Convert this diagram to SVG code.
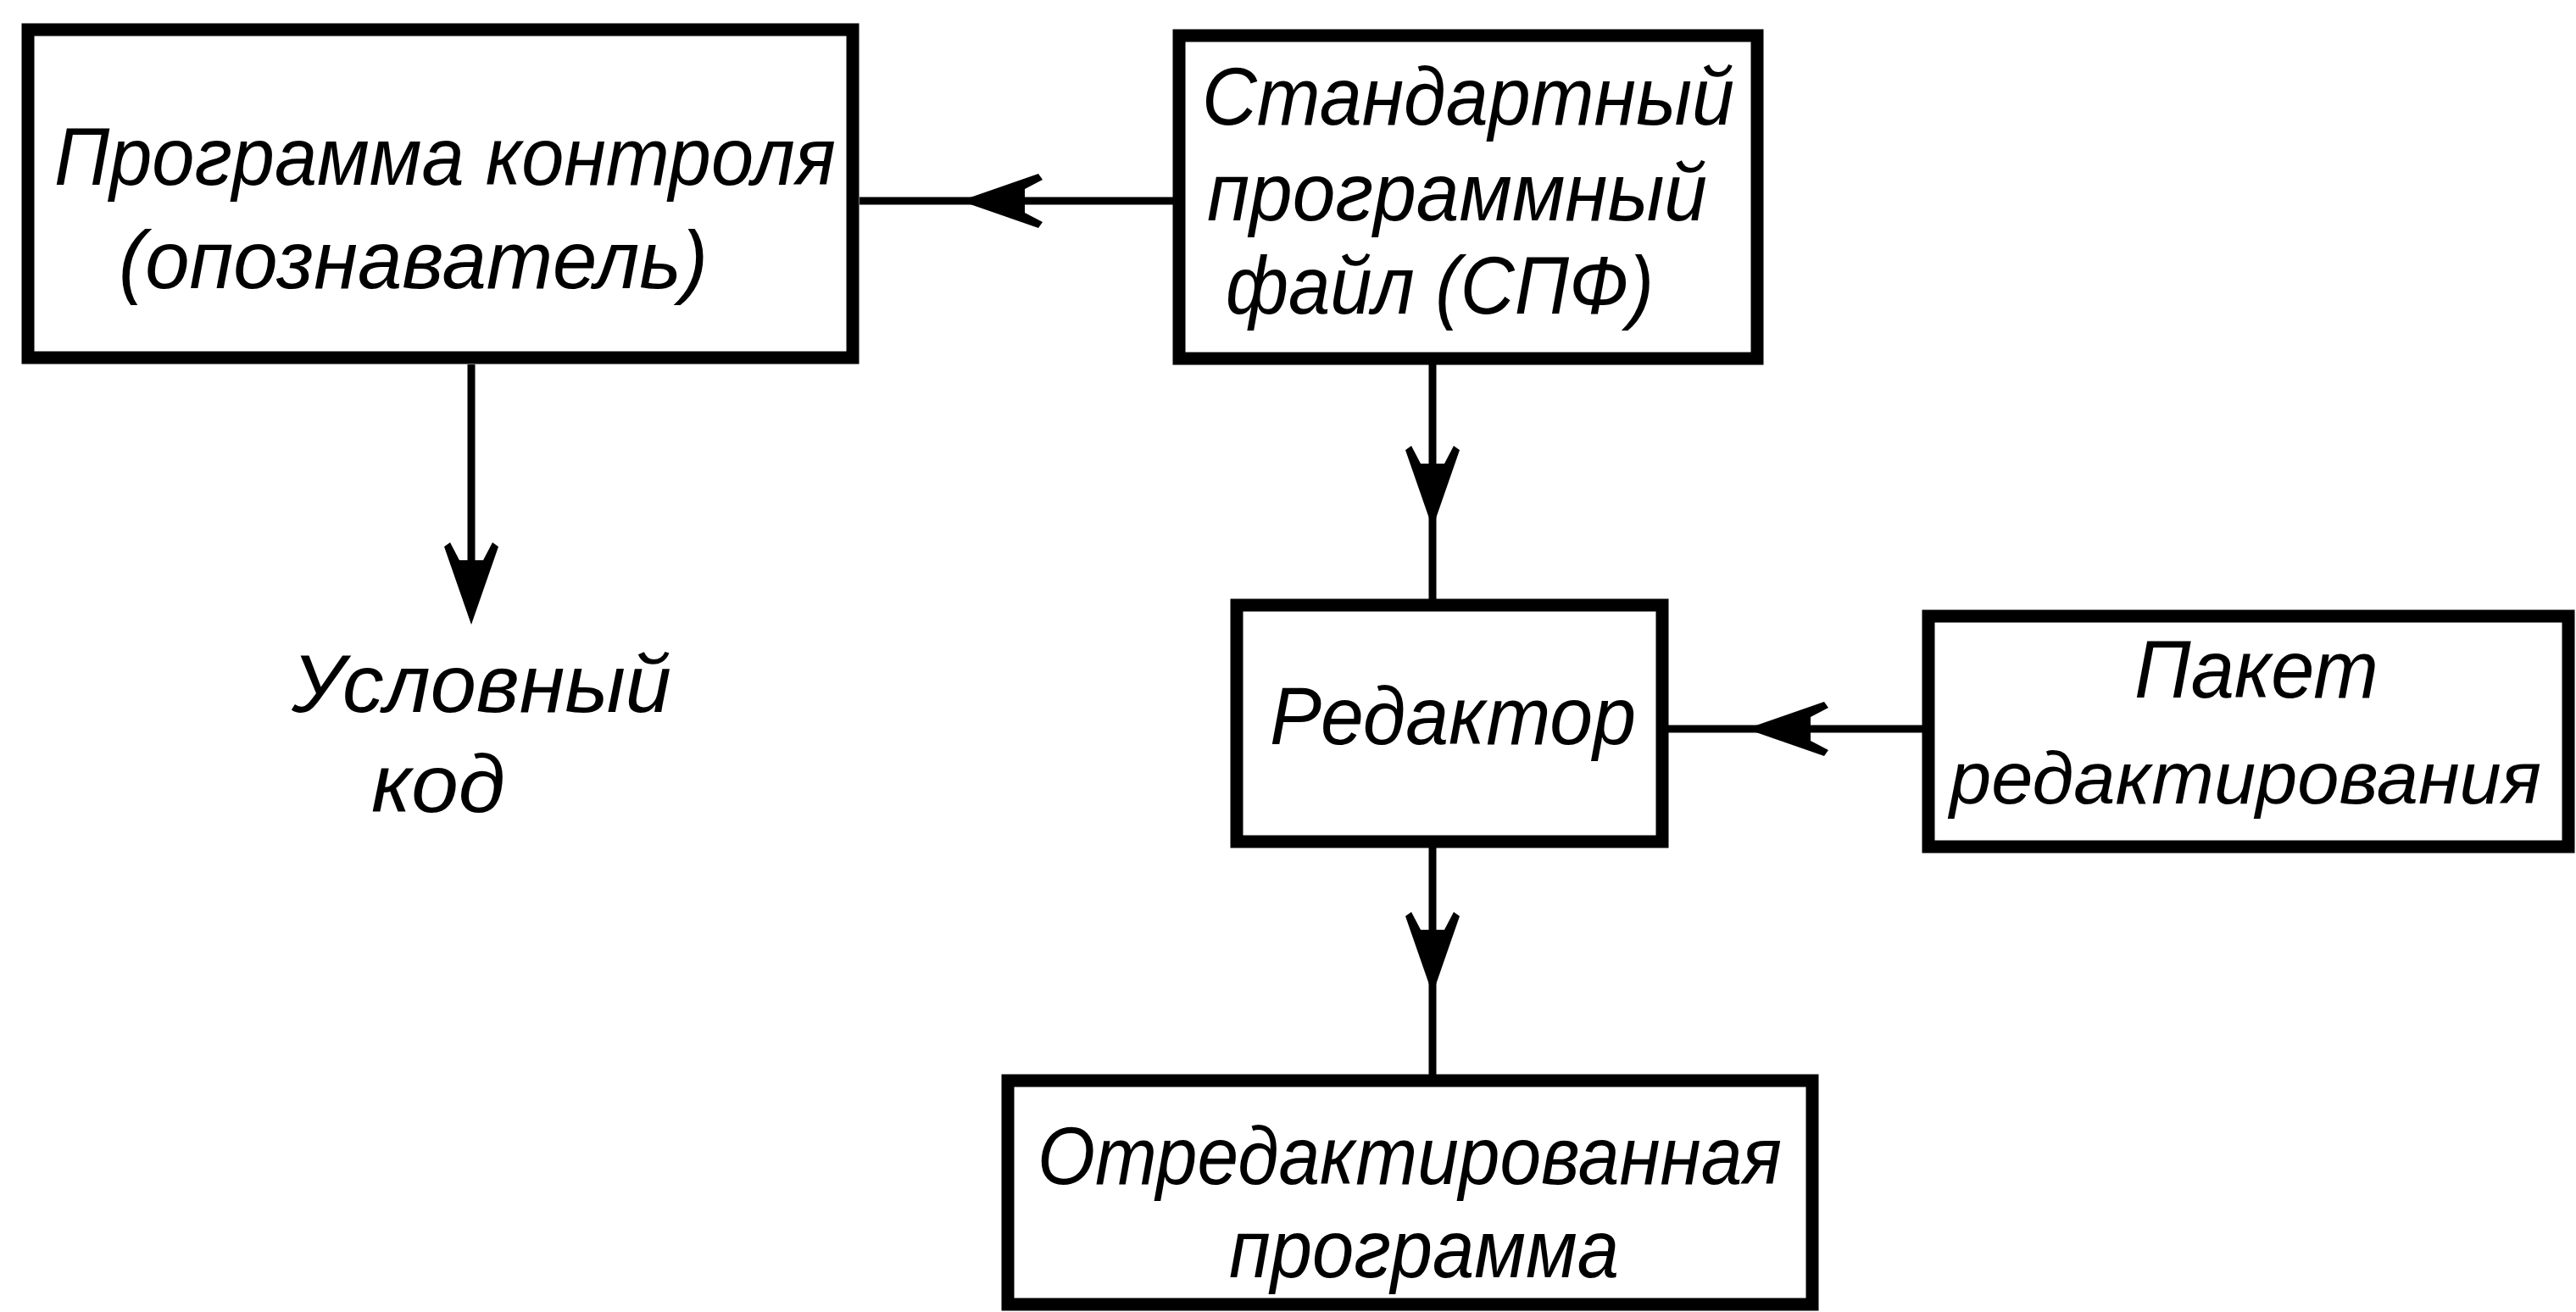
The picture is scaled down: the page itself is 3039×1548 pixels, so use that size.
<svg xmlns="http://www.w3.org/2000/svg" width="3039" height="1548" viewBox="0 0 3039 1548">
<style>
.box{fill:#fff;stroke:#000;stroke-width:15}
.ln{stroke:#000;stroke-width:9;fill:none}
.t{font-family:"Liberation Sans","DejaVu Sans",sans-serif;font-style:italic;font-size:97px;fill:#000}
</style>
<defs>
<path id="ah" d="M0,0 L-92,-32 L-97,-25 L-76,-14 L-76,14 L-97,25 L-92,32 Z" fill="#000"/>
</defs>
<rect width="3039" height="1548" fill="#fff"/>
<g id="connectors">
<line class="ln" x1="1386" y1="237" x2="1014" y2="237"/>
<use href="#ah" transform="translate(1133,237) rotate(180)"/>
<line class="ln" x1="1690" y1="430" x2="1690" y2="707"/>
<use href="#ah" transform="translate(1690,623) rotate(90)"/>
<line class="ln" x1="1690" y1="1000" x2="1690" y2="1268"/>
<use href="#ah" transform="translate(1690,1173) rotate(90)"/>
<line class="ln" x1="2268" y1="860" x2="1966" y2="860"/>
<use href="#ah" transform="translate(2060,860) rotate(180)"/>
<line class="ln" x1="556" y1="430" x2="556" y2="700"/>
<use href="#ah" transform="translate(556,737) rotate(90)"/>
</g>
<g id="node-control">
<rect class="box" x="33" y="35" width="973" height="387"/>
<text class="t" x="64" y="218" textLength="922" lengthAdjust="spacingAndGlyphs">Программа контроля</text>
<text class="t" x="140" y="340" textLength="695" lengthAdjust="spacingAndGlyphs">(опознаватель)</text>
</g>
<g id="node-spf">
<rect class="box" x="1391" y="42" width="682" height="381"/>
<text class="t" x="1418" y="147" textLength="628" lengthAdjust="spacingAndGlyphs">Стандартный</text>
<text class="t" x="1424" y="260" textLength="590" lengthAdjust="spacingAndGlyphs">программный</text>
<text class="t" x="1446" y="370" textLength="505" lengthAdjust="spacingAndGlyphs">файл (СПФ)</text>
</g>
<g id="node-editor">
<rect class="box" x="1459" y="714" width="502" height="279"/>
<text class="t" x="1498" y="878" textLength="432" lengthAdjust="spacingAndGlyphs">Редактор</text>
</g>
<g id="node-package">
<rect class="box" x="2275" y="727" width="755" height="272"/>
<text class="t" x="2518" y="823" textLength="288" lengthAdjust="spacingAndGlyphs">Пакет</text>
<text class="t" x="2300" y="948" style="font-size:88px" textLength="698" lengthAdjust="spacingAndGlyphs">редактирования</text>
</g>
<g id="node-edited">
<rect class="box" x="1189" y="1275" width="949" height="264"/>
<text class="t" x="1224" y="1397" textLength="878" lengthAdjust="spacingAndGlyphs">Отредактированная</text>
<text class="t" x="1450" y="1507" textLength="460" lengthAdjust="spacingAndGlyphs">программа</text>
</g>
<g id="node-code">
<text class="t" x="344" y="840" textLength="448" lengthAdjust="spacingAndGlyphs">Условный</text>
<text class="t" x="438" y="958" textLength="158" lengthAdjust="spacingAndGlyphs">код</text>
</g>
</svg>
